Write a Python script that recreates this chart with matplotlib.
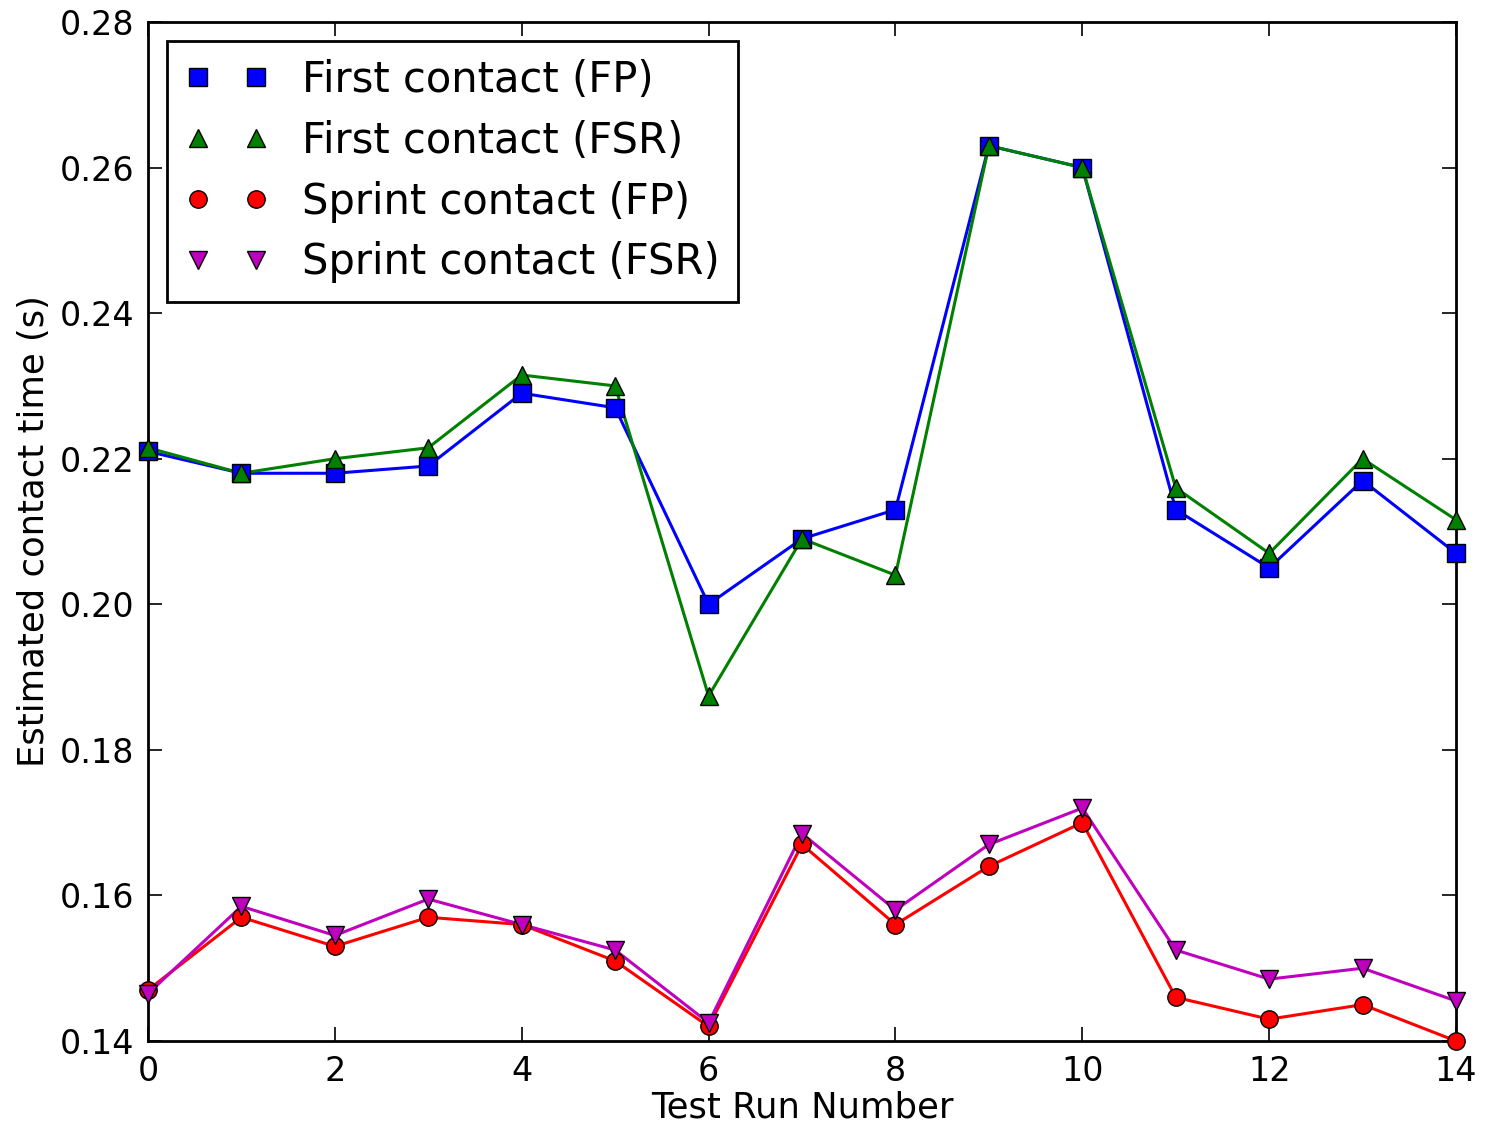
import numpy as np
import matplotlib
matplotlib.use("Agg")
import matplotlib.pyplot as plt

runs = np.arange(15)

first_fp = [0.221, 0.218, 0.218, 0.219, 0.229, 0.227, 0.200, 0.209,
            0.213, 0.263, 0.260, 0.213, 0.205, 0.217, 0.207]
first_fsr = [0.2215, 0.218, 0.220, 0.2215, 0.2315, 0.230, 0.1874, 0.209,
             0.204, 0.263, 0.260, 0.216, 0.207, 0.220, 0.2116]
sprint_fp = [0.147, 0.157, 0.153, 0.157, 0.156, 0.151, 0.142, 0.167,
             0.156, 0.164, 0.170, 0.146, 0.143, 0.145, 0.140]
sprint_fsr = [0.1465, 0.1585, 0.1545, 0.1595, 0.156, 0.1525, 0.1425, 0.1685,
              0.158, 0.167, 0.172, 0.1525, 0.1485, 0.150, 0.1455]

series = [
    (first_fp, "First contact (FP)", "b", "s"),
    (first_fsr, "First contact (FSR)", "g", "^"),
    (sprint_fp, "Sprint contact (FP)", "r", "o"),
    (sprint_fsr, "Sprint contact (FSR)", "m", "v"),
]

fig = plt.figure(figsize=(14.87, 11.27), dpi=100)
ax = fig.add_axes([0.0995, 0.0763, 0.8797, 0.9042])

for vals, label, color, marker in series:
    # line without label, markers carry the legend entry
    ax.plot(runs, vals, color=color, linewidth=2.2, zorder=2, clip_on=False)
    ax.plot(runs, vals, linestyle="none", marker=marker, markersize=12.5,
            markerfacecolor=color, markeredgecolor="black", markeredgewidth=1,
            label=label, zorder=3, clip_on=False)

ax.set_xlim(0, 14)
ax.set_ylim(0.14, 0.28)
ax.set_xticks(np.arange(0, 15, 2))
ax.set_yticks(np.arange(0.14, 0.2801, 0.02))
ax.set_yticklabels([f"{v:.2f}" for v in np.arange(0.14, 0.2801, 0.02)])
ax.tick_params(direction="in", length=10, width=1.2, top=True, right=True,
               labelsize=24, pad=10)
for sp in ax.spines.values():
    sp.set_linewidth(2)

ax.set_xlabel("Test Run Number", fontsize=25.5, labelpad=2)
ax.set_ylabel("Estimated contact time (s)", fontsize=25.5, labelpad=6)

leg = ax.legend(loc="upper left", numpoints=2, fontsize=30, fancybox=False,
                edgecolor="black", framealpha=1, handlelength=2.0,
                handletextpad=0.8, borderaxespad=0.45, labelspacing=0.45,
                borderpad=0.44)
leg.get_frame().set_linewidth(2)

fig.savefig("out.png", dpi=100)
